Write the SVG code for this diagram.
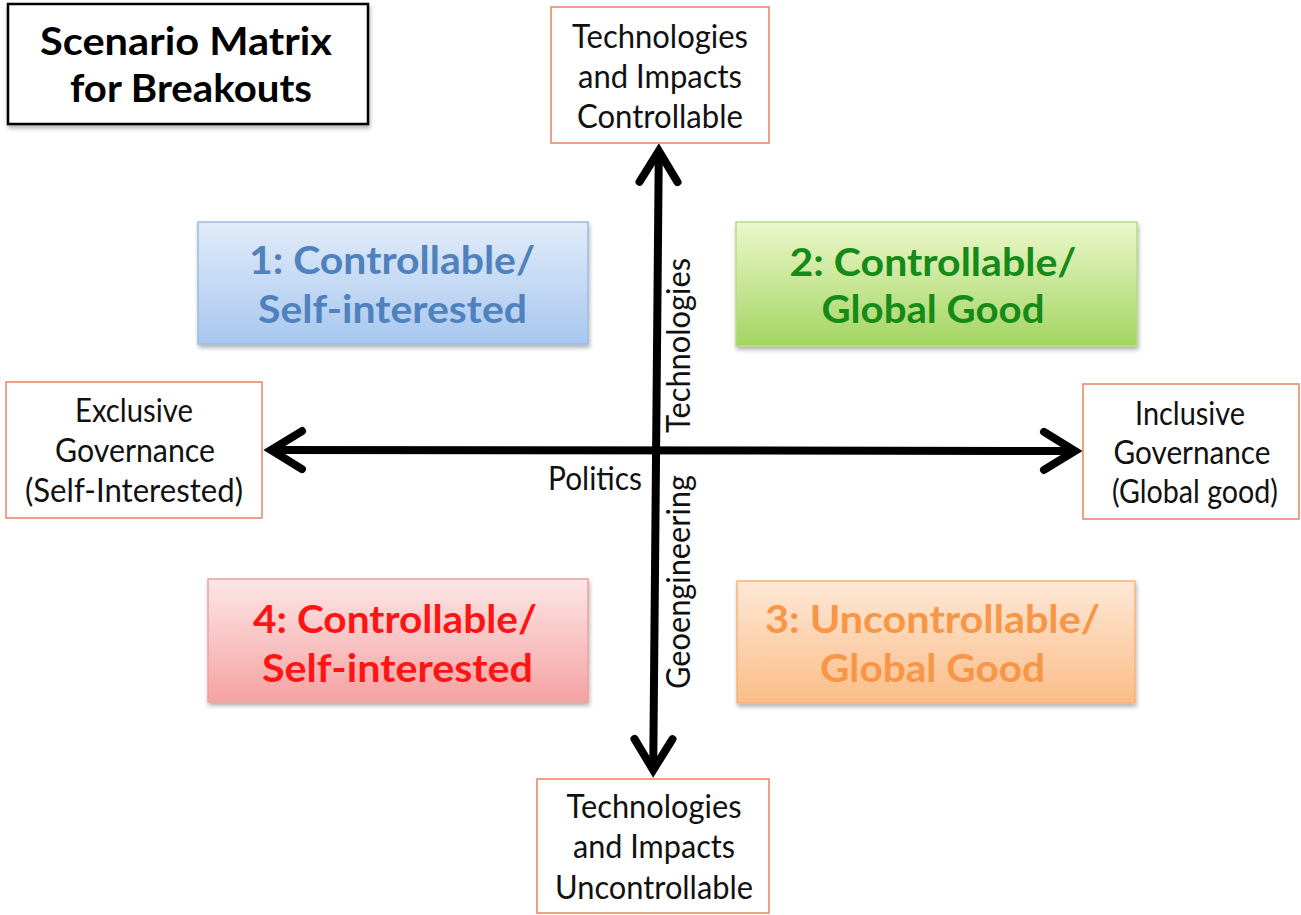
<svg xmlns="http://www.w3.org/2000/svg" width="1301" height="915" viewBox="0 0 1301 915">
<style>
  text { font-family: Lato, "Open Sans", "Liberation Sans", sans-serif; }
  .lbl { font-size: 32px; fill: #111; text-anchor: middle; }
  .big { font-size: 39px; font-weight: bold; text-anchor: middle; }
  .end { stroke: #E98A6A; stroke-width: 1.6; fill: #fff; }
  .axis { stroke: #000; stroke-width: 8; fill: none; marker-start: url(#chev); marker-end: url(#chev); }
</style>
<defs>
  <marker id="chev" markerUnits="userSpaceOnUse" orient="auto-start-reverse" refX="0" refY="0" markerWidth="80" markerHeight="80" viewBox="-50 -40 80 80" overflow="visible">
    <path d="M -31 -19 L 0 0 L -31 19" fill="none" stroke="#000" stroke-width="8" stroke-linecap="round" stroke-linejoin="miter"/>
  </marker>
  <filter id="sh" x="-10%" y="-10%" width="120%" height="130%">
    <feDropShadow dx="1" dy="3" stdDeviation="2" flood-color="#000" flood-opacity="0.3"/>
  </filter>
  <linearGradient id="gBlue" x1="0" y1="0" x2="0" y2="1">
    <stop offset="0" stop-color="#e1ecf9"/>
    <stop offset="1" stop-color="#a8c7ef"/>
  </linearGradient>
  <linearGradient id="gGreen" x1="0" y1="0" x2="0" y2="1">
    <stop offset="0" stop-color="#ecf7cc"/>
    <stop offset="1" stop-color="#a2d560"/>
  </linearGradient>
  <linearGradient id="gRed" x1="0" y1="0" x2="0" y2="1">
    <stop offset="0" stop-color="#fde6e6"/>
    <stop offset="1" stop-color="#f5a2a2"/>
  </linearGradient>
  <linearGradient id="gOrange" x1="0" y1="0" x2="0" y2="1">
    <stop offset="0" stop-color="#fee8d6"/>
    <stop offset="1" stop-color="#fbbd88"/>
  </linearGradient>
</defs>

<rect width="1301" height="915" fill="#fff"/>

<g id="title">
  <rect x="8" y="4" width="360" height="120" fill="#fff" stroke="#000" stroke-width="2.5" filter="url(#sh)"/>
  <text class="big" x="186" y="55" fill="#000" textLength="292" lengthAdjust="spacingAndGlyphs">Scenario Matrix</text>
  <text class="big" x="191" y="102" fill="#000" textLength="242" lengthAdjust="spacingAndGlyphs">for Breakouts</text>
</g>

<g id="connectors">
  <line class="axis" x1="658.8" y1="151" x2="653.2" y2="770"/>
  <line class="axis" x1="271" y1="450" x2="1075" y2="451"/>
</g>

<g id="top">
  <rect class="end" x="551" y="7" width="218" height="136"/>
  <text class="lbl" x="660" y="48" textLength="176" lengthAdjust="spacingAndGlyphs">Technologies</text>
  <text class="lbl" x="660" y="88" textLength="164" lengthAdjust="spacingAndGlyphs">and Impacts</text>
  <text class="lbl" x="660" y="128" textLength="166" lengthAdjust="spacingAndGlyphs">Controllable</text>
</g>

<g id="bottom">
  <rect class="end" x="537" y="779" width="232" height="134"/>
  <text class="lbl" x="654" y="818" textLength="175" lengthAdjust="spacingAndGlyphs">Technologies</text>
  <text class="lbl" x="654" y="858" textLength="162" lengthAdjust="spacingAndGlyphs">and Impacts</text>
  <text class="lbl" x="654" y="899" textLength="198" lengthAdjust="spacingAndGlyphs">Uncontrollable</text>
</g>

<g id="left">
  <rect class="end" x="6" y="382" width="256" height="136"/>
  <text class="lbl" x="134" y="422" textLength="118" lengthAdjust="spacingAndGlyphs">Exclusive</text>
  <text class="lbl" x="135" y="462" textLength="160" lengthAdjust="spacingAndGlyphs">Governance</text>
  <text class="lbl" x="134" y="502" textLength="218" lengthAdjust="spacingAndGlyphs">(Self-Interested)</text>
</g>

<g id="right">
  <rect class="end" x="1083" y="384" width="216" height="135"/>
  <text class="lbl" x="1190" y="425" textLength="110" lengthAdjust="spacingAndGlyphs">Inclusive</text>
  <text class="lbl" x="1192" y="464" textLength="157" lengthAdjust="spacingAndGlyphs">Governance</text>
  <text class="lbl" x="1195" y="503" textLength="166" lengthAdjust="spacingAndGlyphs">(Global good)</text>
</g>

<g id="axis-labels">
  <text class="lbl" x="0" y="0" transform="translate(690,345.5) rotate(-90)" textLength="175" lengthAdjust="spacingAndGlyphs">Technologies</text>
  <text class="lbl" x="0" y="0" transform="translate(690,582) rotate(-90)" textLength="214" lengthAdjust="spacingAndGlyphs">Geoengineering</text>
  <text class="lbl" x="642" y="490" style="text-anchor:end" textLength="94" lengthAdjust="spacingAndGlyphs">Politics</text>
</g>

<g id="q1">
  <rect x="198" y="222" width="390" height="122" fill="url(#gBlue)" stroke="#9dbbe0" stroke-width="1.5" filter="url(#sh)"/>
  <text class="big" x="392" y="274" fill="#4f81bd" textLength="286" lengthAdjust="spacingAndGlyphs">1: Controllable/</text>
  <text class="big" x="392.5" y="323" fill="#4f81bd" textLength="269" lengthAdjust="spacingAndGlyphs">Self-interested</text>
</g>

<g id="q2">
  <rect x="736" y="222" width="401" height="124" fill="url(#gGreen)" stroke="#b5dc86" stroke-width="1.5" filter="url(#sh)"/>
  <text class="big" x="933" y="276" fill="#158a18" textLength="287" lengthAdjust="spacingAndGlyphs">2: Controllable/</text>
  <text class="big" x="933" y="323" fill="#158a18" textLength="223" lengthAdjust="spacingAndGlyphs">Global Good</text>
</g>

<g id="q4">
  <rect x="208" y="579" width="380" height="123" fill="url(#gRed)" stroke="#eba0a0" stroke-width="1.5" filter="url(#sh)"/>
  <text class="big" x="395" y="633" fill="#ff1414" textLength="284" lengthAdjust="spacingAndGlyphs">4: Controllable/</text>
  <text class="big" x="397.5" y="682" fill="#ff1414" textLength="271" lengthAdjust="spacingAndGlyphs">Self-interested</text>
</g>

<g id="q3">
  <rect x="737" y="581" width="398" height="122" fill="url(#gOrange)" stroke="#f9b27a" stroke-width="1.5" filter="url(#sh)"/>
  <text class="big" x="932.5" y="633" fill="#f79646" textLength="335" lengthAdjust="spacingAndGlyphs">3: Uncontrollable/</text>
  <text class="big" x="932.5" y="682" fill="#f79646" textLength="225" lengthAdjust="spacingAndGlyphs">Global Good</text>
</g>
</svg>
